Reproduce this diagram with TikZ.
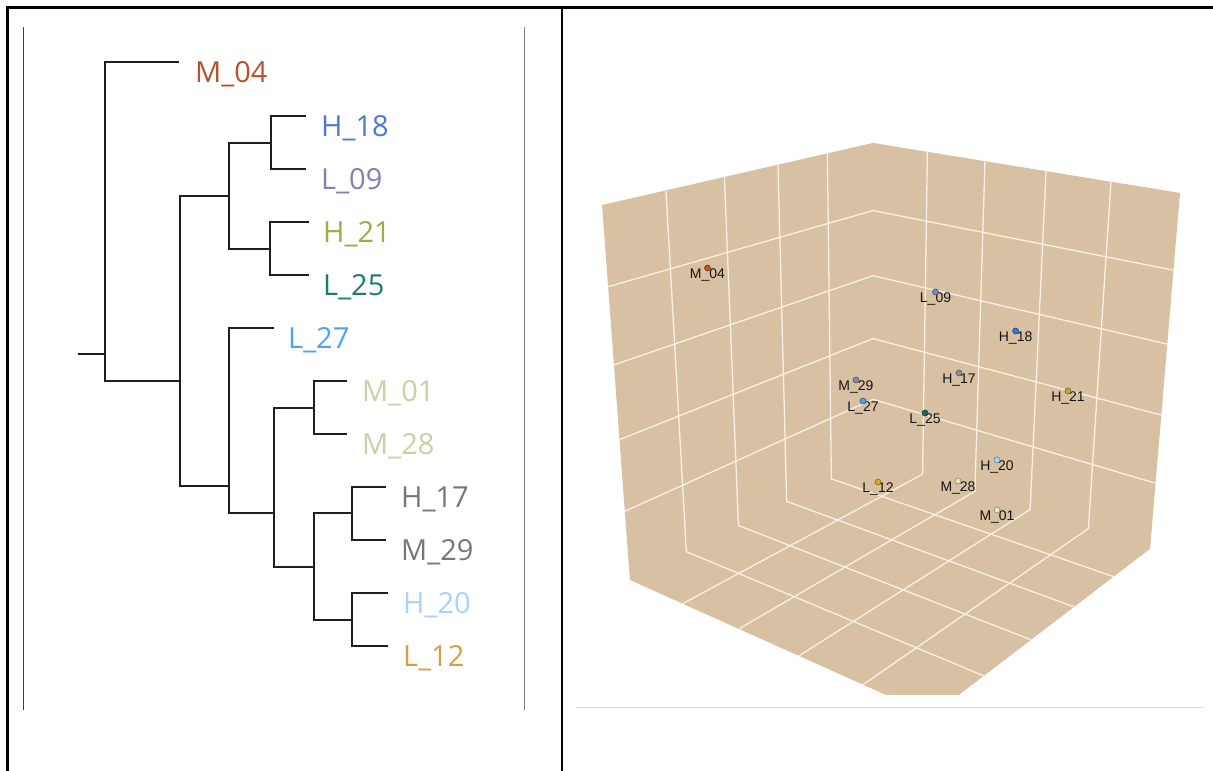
\documentclass[tikz,border=0pt]{standalone}
\usepackage{fontspec}
\setmainfont{Open Sans}
\newfontfamily\plotfont{Liberation Sans}
\definecolor{cM04}{HTML}{B5522B}
\definecolor{cH18}{HTML}{4A78D4}
\definecolor{cL09}{HTML}{8080B4}
\definecolor{cH21}{HTML}{A4A647}
\definecolor{cL25}{HTML}{1E7B73}
\definecolor{cL27}{HTML}{4AA5F7}
\definecolor{cM01}{HTML}{CBCFA3}
\definecolor{cH17}{HTML}{777777}
\definecolor{cH20}{HTML}{A6D2FF}
\definecolor{cL12}{HTML}{D5A040}
\definecolor{dM04}{HTML}{C8502A}
\definecolor{dL09}{HTML}{7F84D0}
\definecolor{dH18}{HTML}{3B70DA}
\definecolor{dH17}{HTML}{8C8C99}
\definecolor{dL27}{HTML}{4AA0EE}
\definecolor{dL25}{HTML}{0F6E60}
\definecolor{dH21}{HTML}{B2AC3C}
\definecolor{dH20}{HTML}{A9D6F7}
\definecolor{dL12}{HTML}{D8AA2C}
\definecolor{dM01}{HTML}{E6E8C8}
\definecolor{plotbg}{RGB}{216,193,162}
\definecolor{gridc}{RGB}{248,240,228}
\newcommand\projpt[4]{%
  \pgfmathsetmacro\phw{1-0.174*(#2)-0.1267*(#3)-0.085*(#4)}%
  \pgfmathsetmacro\phx{(873-352.7*(#2)+131.4*(#3)-74.2*(#4))/\phw}%
  \pgfmathsetmacro\phy{(458+21.1*(#2)+21.3*(#3)-327.2*(#4))/\phw}%
  \coordinate (#1) at (\phx,\phy);}
\tikzset{
  frameline/.style={line width=2.3pt, black},
  thinline/.style={line width=1pt},
  branch/.style={line width=2.7pt, black!88},
  leaf/.style={anchor=base west, inner sep=0pt, font=\fontsize{29}{30}\selectfont},
  gridl/.style={line width=1.3pt, gridc},
  ptlabel/.style={anchor=base, inner sep=0pt, text=black!92, font=\plotfont\fontsize{14}{15}\selectfont},
  ptdot/.style={circle, inner sep=0pt, minimum size=6pt, line width=0.6pt}
}
\begin{document}
\begin{tikzpicture}[x=1pt,y=-1pt]
\useasboundingbox (0,0) rectangle (1213,771);
% frame
\coordinate (fbl) at (7.5,771);
\coordinate (ftl) at (7.5,7.5);
\coordinate (ftr) at (1213,7.5);
\coordinate (dtop) at (562,7.5);
\coordinate (dbot) at (562,771);
\draw[frameline] (fbl) -- (ftl) -- (ftr);
\draw[frameline] (dtop) -- (dbot);
% thin panel lines
\coordinate (tl1) at (23.5,27); \coordinate (tl2) at (23.5,710);
\coordinate (tr1) at (524,27); \coordinate (tr2) at (524,710);
\draw[thinline, black!75] (tl1) -- (tl2);
\draw[thinline, black!50] (tr1) -- (tr2);
% tree internal nodes
\coordinate (stub) at (78,354);
\coordinate (r) at (105,354);
\coordinate (n1) at (180,381);
\coordinate (n2) at (229,196);
\coordinate (n3) at (271,143);
\coordinate (n4) at (270,249);
\coordinate (n5) at (229,486);
\coordinate (n6) at (274,513);
\coordinate (n7) at (314,408);
\coordinate (n8) at (314,567);
\coordinate (n9) at (352,513);
\coordinate (n10) at (352,620);
% leaf tips
\coordinate (tM04) at (179,62);
\coordinate (tH18) at (306,116);
\coordinate (tL09) at (306,169);
\coordinate (tH21) at (309,222);
\coordinate (tL25) at (309,275);
\coordinate (tL27) at (274,328);
\coordinate (tM01) at (347,381);
\coordinate (tM28) at (347,434);
\coordinate (tH17) at (386,487);
\coordinate (tM29) at (386,540);
\coordinate (tH20) at (388,593);
\coordinate (tL12) at (388,646);
% branches
\draw[branch] (stub) -- (r);
\draw[branch] (r) |- (tM04);
\draw[branch] (r) |- (n1);
\draw[branch] (n1) |- (n2);
\draw[branch] (n1) |- (n5);
\draw[branch] (n2) |- (n3);
\draw[branch] (n2) |- (n4);
\draw[branch] (n3) |- (tH18);
\draw[branch] (n3) |- (tL09);
\draw[branch] (n4) |- (tH21);
\draw[branch] (n4) |- (tL25);
\draw[branch] (n5) |- (tL27);
\draw[branch] (n5) |- (n6);
\draw[branch] (n6) |- (n7);
\draw[branch] (n6) |- (n8);
\draw[branch] (n7) |- (tM01);
\draw[branch] (n7) |- (tM28);
\draw[branch] (n8) |- (n9);
\draw[branch] (n8) |- (n10);
\draw[branch] (n9) |- (tH17);
\draw[branch] (n9) |- (tM29);
\draw[branch] (n10) |- (tH20);
\draw[branch] (n10) |- (tL12);
% leaf labels
\node[leaf, text=cM04] (lM04) at (195,82) {M\_04};
\node[leaf, text=cH18] (lH18) at (321,136) {H\_18};
\node[leaf, text=cL09] (lL09) at (321,189) {L\_09};
\node[leaf, text=cH21] (lH21) at (323,242) {H\_21};
\node[leaf, text=cL25] (lL25) at (323,295) {L\_25};
\node[leaf, text=cL27] (lL27) at (288,348) {L\_27};
\node[leaf, text=cM01] (lM01) at (362,401) {M\_01};
\node[leaf, text=cM01] (lM28) at (362,454) {M\_28};
\node[leaf, text=cH17] (lH17) at (401,507) {H\_17};
\node[leaf, text=cH17] (lM29) at (401,560) {M\_29};
\node[leaf, text=cH20] (lH20) at (403,613) {H\_20};
\node[leaf, text=cL12] (lL12) at (403,666) {L\_12};
% 3D plot
\projpt{O}{0}{0}{0}
\projpt{X1}{1}{0}{0}
\projpt{Y1}{0}{1}{0}
\projpt{Z1}{0}{0}{1}
\projpt{X1Z1}{1}{0}{1}
\projpt{Y1Z1}{0}{1}{1}
\projpt{X1Y1}{1}{1}{0}
\begin{scope}
  \clip (565,0) rectangle (1213,694);
  \fill[plotbg] (X1Z1) -- (Z1) -- (Y1Z1) -- (Y1) -- (X1Y1) -- (X1) -- cycle;
  \foreach \t in {0.2,0.4,0.6,0.8}{
    \projpt{ga}{\t}{0}{0}\projpt{gb}{\t}{0}{1}\projpt{gc}{\t}{1}{0}
    \draw[gridl] (gb) -- (ga) -- (gc);
    \projpt{ha}{0}{\t}{0}\projpt{hb}{0}{\t}{1}\projpt{hc}{1}{\t}{0}
    \draw[gridl] (hb) -- (ha) -- (hc);
    \projpt{za}{1}{0}{\t}\projpt{zb}{0}{0}{\t}\projpt{zc}{0}{1}{\t}
    \draw[gridl] (za) -- (zb) -- (zc);
  }
\end{scope}
\coordinate (bl1) at (576,707.5); \coordinate (bl2) at (1203,707.5);
\draw[line width=1pt, black!13] (bl1) -- (bl2);
% points
\foreach \px/\py/\lab/\col/\nm in {
  707.5/268/M\_04/dM04/pM04,
  935.5/292/L\_09/dL09/pL09,
  1015.6/331/H\_18/dH18/pH18,
  959/373/H\_17/dH17/pH17,
  856/380/M\_29/dH17/pM29,
  863/401/L\_27/dL27/pL27,
  925/413/L\_25/dL25/pL25,
  1068/391/H\_21/dH21/pH21,
  997/460/H\_20/dH20/pH20,
  878/482/L\_12/dL12/pL12,
  958/481/M\_28/dM01/pM28,
  997/510/M\_01/dM01/pM01}{
  \node[ptlabel] (l\nm) at (\px,\py+10) {\lab};
  \node[ptdot, fill=\col, draw=\col!60!black] (\nm) at (\px,\py) {};
}
\end{tikzpicture}
\end{document}
